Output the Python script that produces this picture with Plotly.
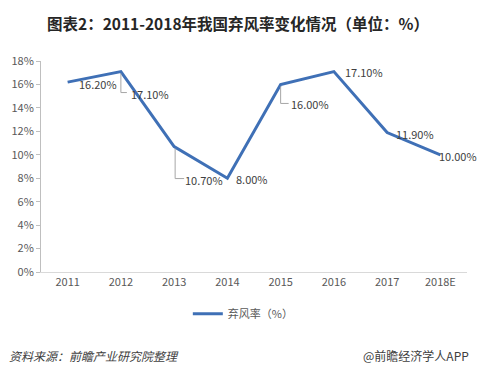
import plotly.graph_objects as go

# ---- data ----
years = ["2011", "2012", "2013", "2014", "2015", "2016", "2017", "2018E"]
rates = [16.2, 17.1, 10.7, 8.0, 16.0, 17.1, 11.9, 10.0]
y_ticks = [0, 2, 4, 6, 8, 10, 12, 14, 16, 18]
y_tick_labels = ["0%", "2%", "4%", "6%", "8%", "10%", "12%", "14%", "16%", "18%"]

title = "图表2：2011-2018年我国弃风率变化情况（单位：%）"
series_name = "弃风率（%）"
source = "资料来源：前瞻产业研究院整理"
brand = "@前瞻经济学人APP"

# label placement (pixel offsets from point: dx, dy downwards) and leader flags
label_off = [(30, 2), (29, 22), (30, 33), (25, 1), (29, 20), (30, 0), (28, 1.5), (18, 1.5)]
leader = [None, (0, 21, 6), (1, 32, 9), None, (0, 19, 8), None, None, None]

FONT = "Noto Sans CJK SC"
LINE = "#3F70B6"
TXT = "#595959"

xs = list(range(len(years)))

fig = go.Figure()
fig.add_trace(go.Scatter(
    x=xs, y=rates, mode="lines", name=series_name,
    line=dict(color=LINE, width=3), showlegend=True, hoverinfo="skip",
))

L, R, T, B = 41, 13.5, 60.7, 101.3
W, H = 481, 373
plot_w = W - L - R
plot_h = H - T - B


def px(xp, yp):
    return (xp - L) / plot_w, (H - B - yp) / plot_h


annotations = []
shapes = []
for i, (v, (dx, dy), ld) in enumerate(zip(rates, label_off, leader)):
    annotations.append(dict(
        x=i, y=v, xref="x", yref="y", text=f"{v:.2f}%", showarrow=False,
        xshift=dx, yshift=-dy, font=dict(family=FONT, size=11, color="#404040"),
    ))
    if ld is not None:
        lx, ly, hx = ld
        shapes.append(dict(
            type="path", xref="x", yref="y", xsizemode="pixel", ysizemode="pixel",
            xanchor=i, yanchor=v,
            path=f"M {lx} -2 L {lx} {-ly} L {lx + hx} {-ly}",
            line=dict(color="#A6A6A6", width=1),
        ))

tx, ty = px(238, 22.7)
sx, sy = px(7, 355)
bx, by = px(472, 355)
annotations += [
    dict(text=f"<b>{title}</b>", x=tx, y=ty, xref="paper", yref="paper", showarrow=False,
         xanchor="center", yanchor="middle", font=dict(family=FONT, size=15.5, color="#262626")),
    dict(text=f"<i>{source}</i>", x=sx, y=sy, xref="paper", yref="paper", showarrow=False,
         xanchor="left", yanchor="middle", font=dict(family=FONT, size=12, color="#404040")),
    dict(text=brand, x=bx, y=by, xref="paper", yref="paper", showarrow=False,
         xanchor="right", yanchor="middle", font=dict(family=FONT, size=12, color="#404040")),
]

lgx, lgy = px(188, 313.5)
fig.update_layout(
    width=W, height=H,
    margin=dict(l=L, r=R, t=T, b=B),
    paper_bgcolor="white", plot_bgcolor="white",
    showlegend=True,
    legend=dict(orientation="h", x=lgx, xanchor="left", y=lgy, yanchor="middle",
                font=dict(family=FONT, size=11, color=TXT), itemwidth=30),
    xaxis=dict(range=[-0.5, len(years) - 0.5], tickvals=xs, ticktext=years,
               showgrid=False, zeroline=False, showline=True, linecolor="#D9D9D9",
               ticks="", tickfont=dict(family=FONT, size=11, color=TXT)),
    yaxis=dict(range=[0, 18], tickvals=y_ticks, ticktext=y_tick_labels,
               showgrid=False, zeroline=False, showline=True, linecolor="#BFBFBF",
               ticks="outside", ticklen=4, tickcolor="#BFBFBF",
               tickfont=dict(family=FONT, size=11, color=TXT)),
    shapes=shapes,
    annotations=annotations,
)

fig.write_html("out.html", config={"displayModeBar": False},
               post_script="document.body.style.margin='0';")
